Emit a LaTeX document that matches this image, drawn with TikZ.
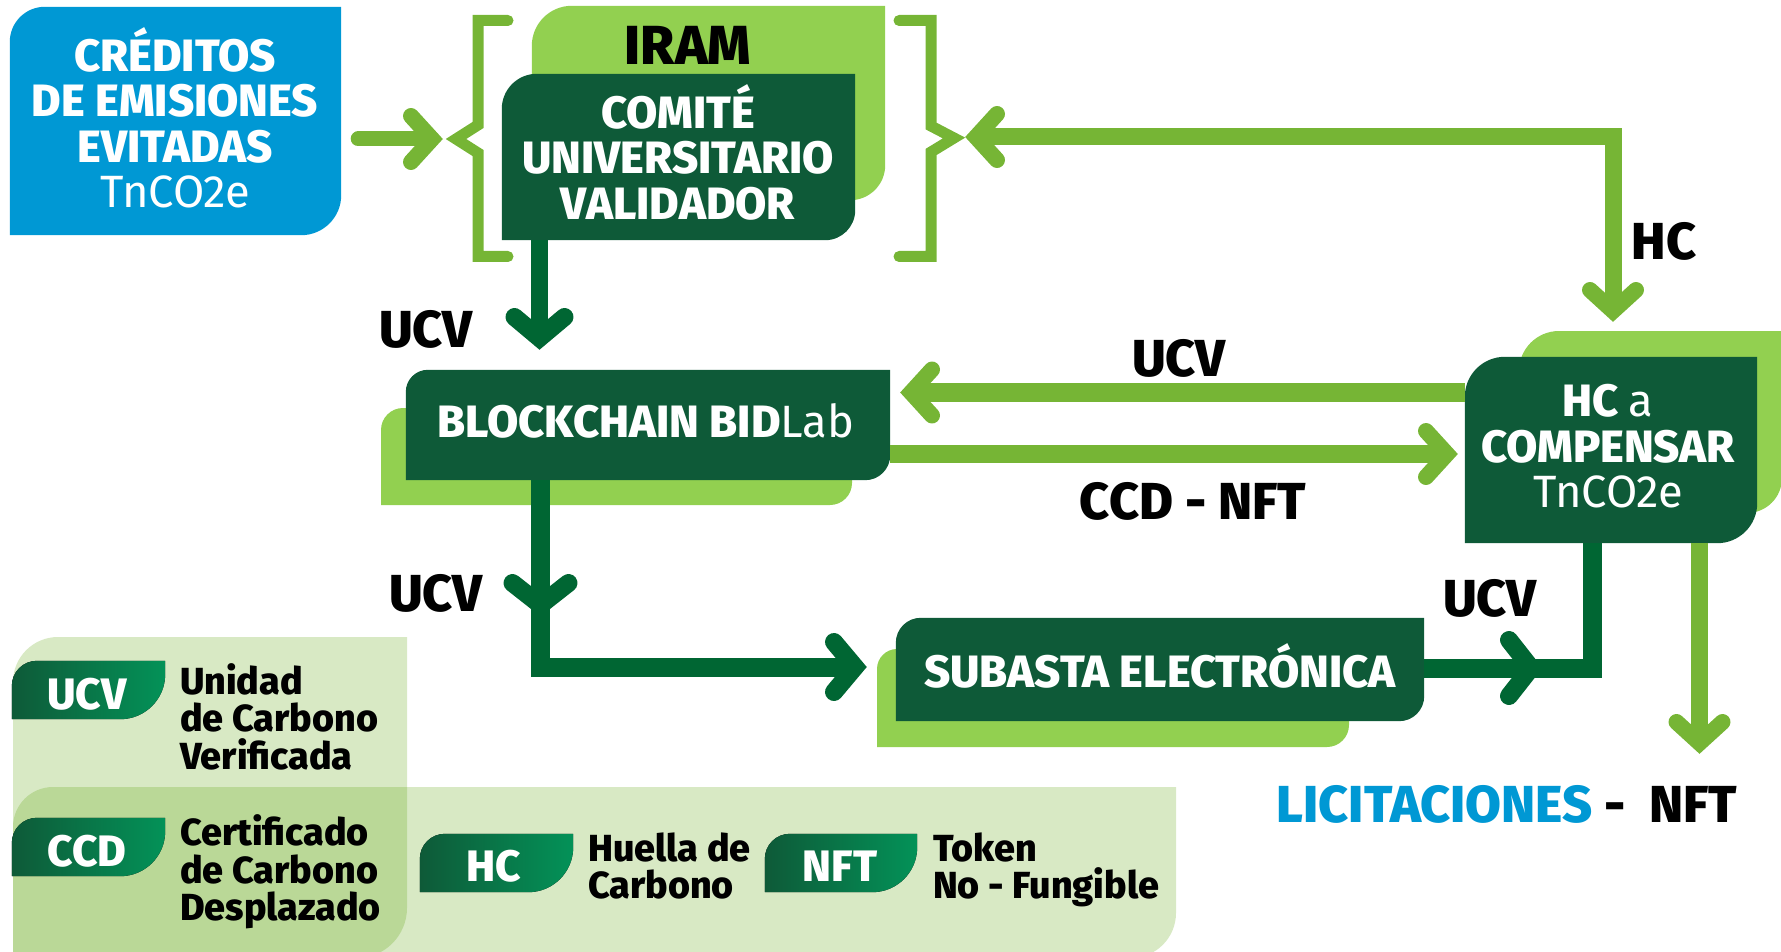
\documentclass[tikz,border=0pt]{standalone}
\usepackage{fontspec}
\setmainfont{Fira Sans}[BoldFont={Fira Sans ExtraBold}]
\usetikzlibrary{calc}
\definecolor{credblue}{RGB}{0,152,212}
\definecolor{boxdark}{RGB}{14,90,56}
\definecolor{arrdark}{RGB}{0,102,51}
\definecolor{midg}{RGB}{118,181,53}
\definecolor{lightg}{RGB}{146,208,80}
\definecolor{legg}{RGB}{85,159,0}
\definecolor{badgeR}{RGB}{3,146,88}
\newcommand\topst{\rule{0pt}{1em}}
\newcommand\botst{\rule[-0.311em]{0pt}{0.311em}}
\newcommand\boxfont{\fontsize{45.3}{45.5}\selectfont\bfseries}
\newcommand\badgefont{\fontsize{44}{45}\selectfont\bfseries}
\newcommand\iramfont{\fontsize{55}{57}\selectfont\bfseries}
\newcommand\lblfont{\fontsize{52}{54}\selectfont\bfseries}
\newcommand\legfont{\fontsize{37.7}{37.5}\selectfont\bfseries}
\newcommand\leafnode[4]{\fill[#4] (#1.south west) -- ([yshift=-#2]#1.north west) arc[start angle=180,end angle=90,radius=#2] -- (#1.north east) -- ([yshift=#3]#1.south east) arc[start angle=0,end angle=-90,radius=#3] -- cycle;}
\newcommand\leafshape[7]{\fill[#7] (#1,-#4) -- (#1,-#2-#5) arc[start angle=180,end angle=90,radius=#5] -- (#3,-#2) -- (#3,-#4+#6) arc[start angle=0,end angle=-90,radius=#6] -- cycle;}
\tikzset{
  box/.style={rectangle, inner sep=0pt, draw=none},
  txt/.style={inner sep=0pt, align=center, text=white, execute at begin node=\topst, execute at end node=\botst},
  lbl/.style={inner sep=0pt, text=black, font=\lblfont, execute at begin node=\topst, execute at end node=\botst},
  legtxt/.style={inner sep=0pt, anchor=west, align=left, text=black, font=\legfont, execute at begin node=\topst, execute at end node=\botst},
  marr/.style={draw=midg, line width=16pt, line join=miter},
  darr/.style={draw=arrdark, line width=19pt, line join=miter},
  pics/chevm/.style={code={\draw[midg,line width=16pt,line cap=round,line join=miter] (-32,23) -- (-11,0) -- (-32,-23);}},
  pics/chevd/.style={code={\draw[arrdark,line width=18pt,line cap=round,line join=miter] (-33,25) -- (-12,0) -- (-33,-25);}},
  pics/chevdb/.style={code={\draw[arrdark,line width=18pt,line cap=round,line join=miter] (-34,28) -- (-12,0) -- (-34,-28);}},
}
\begin{document}
\begin{tikzpicture}[x=1pt,y=1pt]
\useasboundingbox (0,0) rectangle (1781,-952);
% legend panels
\leafshape{13}{637}{407}{958}{45}{50}{legg, fill opacity=0.23}
\leafshape{13}{787}{1176}{958}{40}{45}{legg, fill opacity=0.23}
% light shadow boxes
\leafshape{381}{408}{852}{505}{22}{22}{lightg}
\leafshape{1519}{331}{1782}{513}{40}{35}{lightg}
\leafshape{877}{649}{1349}{747}{20}{22}{lightg}
% box nodes
\node[box, minimum width=331pt, minimum height=228pt] (cred) at (175.5,-121) {};
\node[box, minimum width=353pt, minimum height=194pt] (iram) at (708.5,-103) {};
\node[box, minimum width=353pt, minimum height=166pt] (comite) at (678.5,-157) {};
\node[box, minimum width=484pt, minimum height=110pt] (block) at (648,-425) {};
\node[box, minimum width=292pt, minimum height=186pt] (hc) at (1611,-450) {};
\node[box, minimum width=528pt, minimum height=103pt] (sub) at (1160,-669.5) {};
\leafnode{cred}{35}{40}{credblue}
\leafnode{iram}{40}{35}{lightg}
\leafnode{comite}{35}{30}{boxdark}
\leafnode{block}{22}{25}{boxdark}
\leafnode{hc}{40}{40}{boxdark}
\leafnode{sub}{25}{25}{boxdark}
% box texts
\node[txt, font=\boxfont] (credT) at (175,-124.5) {CRÉDITOS\\DE EMISIONES\\EVITADAS\\\mdseries TnCO2e};
\node[txt, text=black, font=\iramfont] (iramT) at (688,-46) {IRAM};
\node[txt, font=\boxfont] (comiteT) at (678,-159) {COMITÉ\\UNIVERSITARIO\\VALIDADOR};
\node[txt, font=\boxfont] (blockT) at (646,-422) {BLOCKCHAIN BID{\mdseries Lab}};
\node[txt, font=\boxfont] (hcT) at (1608,-453) {HC {\mdseries a}\\COMPENSAR\\\mdseries TnCO2e};
\node[txt, font=\boxfont] (subT) at (1160,-672) {SUBASTA ELECTRÓNICA};
% brackets
\draw[midg, line width=11pt, line cap=round, line join=miter] (508,-20.5) -- (478,-20.5) -- (478,-125) -- (456,-139) -- (478,-153) -- (478,-256.5) -- (508,-256.5);
\draw[midg, line width=11pt, line cap=round, line join=miter] (899,-20.5) -- (931,-20.5) -- (931,-126) -- (954,-138) -- (931,-152) -- (931,-256.5) -- (899,-256.5);
% coordinates
\coordinate (a1) at (443,-139);
\coordinate (hct) at (1613,-322);
\coordinate (brt) at (965,-137);
\coordinate (a3) at (900,-392.5);
\coordinate (a4) at (1458,-454);
\coordinate (a5) at (539.5,-350);
\coordinate (c6) at (540.5,-667);
\coordinate (m6) at (540.5,-617);
\coordinate (a6) at (867,-667);
\coordinate (c7) at (1592.5,-668);
\coordinate (m7) at (1543,-668);
\coordinate (a8) at (1699.5,-754);
% connectors
\draw[marr, line width=15pt, line cap=round, shorten >=11pt] ($(cred.east |- a1)+(17,0)$) -- (a1);
\path (a1) pic{chevm};
\draw[marr, line width=17pt, shorten >=11pt, shorten <=11pt] (hct) -- (hct |- brt) -- (brt);
\path (hct) pic[rotate=-90]{chevm};
\path (brt) pic[rotate=180]{chevm};
\draw[marr, line width=19pt, shorten >=11pt] (hc.west |- a3) -- (a3);
\path (a3) pic[rotate=180]{chevm};
\draw[marr, line width=18pt, shorten >=11pt] (block.east |- a4) -- (a4);
\path (a4) pic{chevm};
\draw[darr, line width=17pt, shorten >=12pt] (comite.south -| a5) -- (a5);
\path (a5) pic[rotate=-90]{chevd};
\draw[darr, shorten >=12pt] (block.south -| c6) -- (c6) -- (a6);
\path (m6) pic[rotate=-90]{chevdb};
\path (a6) pic{chevd};
\draw[darr] (sub.east |- c7) -- (c7) -- (hc.south -| c7);
\path (m7) pic{chevdb};
\draw[marr, line width=17pt, shorten >=11pt] (hc.south -| a8) -- (a8);
\path (a8) pic[rotate=-90]{chevm};
% labels
\node[lbl] (lu1) at (426,-330) {UCV};
\node[lbl] (lhc) at (1664,-242) {HC};
\node[lbl] (lu2) at (1179,-359) {UCV};
\node[lbl] (lccd) at (1193,-502) {CCD - NFT};
\node[lbl] (lu3) at (436,-594) {UCV};
\node[lbl] (lu4) at (1490,-599) {UCV};
\node[lbl] (lic) at (1507,-805) {\textcolor{credblue}{LICITACIONES} -~~NFT};
% legend badges
\node[box, minimum width=153pt, minimum height=58pt] (bUCV) at (88.5,-690) {};
\node[box, minimum width=153pt, minimum height=58pt] (bCCD) at (88.5,-847) {};
\node[box, minimum width=153pt, minimum height=58pt] (bHC) at (496.5,-863) {};
\node[box, minimum width=152pt, minimum height=58pt] (bNFT) at (841,-863) {};
\leafnode{bUCV}{25}{45}{left color=boxdark,right color=badgeR}
\leafnode{bCCD}{25}{45}{left color=boxdark,right color=badgeR}
\leafnode{bHC}{25}{45}{left color=boxdark,right color=badgeR}
\leafnode{bNFT}{25}{45}{left color=boxdark,right color=badgeR}
\node[txt, font=\badgefont] (tUCV) at (87,-694) {UCV};
\node[txt, font=\badgefont] (tCCD) at (87,-851) {CCD};
\node[txt, font=\badgefont] (tHC) at (494,-866) {HC};
\node[txt, font=\badgefont] (tNFT) at (840,-866) {NFT};
\node[legtxt] (dUCV) at (180,-722) {Unidad\\de Carbono\\Verificada};
\node[legtxt] (dCCD) at (180,-873.5) {Certificado\\de Carbono\\Desplazado};
\node[legtxt] (dHC) at (588,-871.5) {Huella de\\Carbono};
\node[legtxt] (dNFT) at (933,-871.5) {Token\\No - Fungible};
\end{tikzpicture}
\end{document}
